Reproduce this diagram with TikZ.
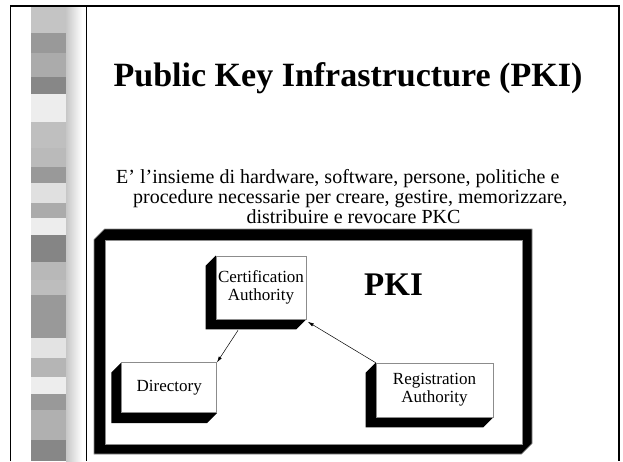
\documentclass[tikz,border=0pt]{standalone}
\usepackage{fontspec}
\setmainfont{Liberation Serif}
\usetikzlibrary{arrows.meta}
\usetikzlibrary{backgrounds}

\begin{document}
\begin{tikzpicture}[x=1pt,y=-1pt,
    heading/.style={inner sep=0pt,font=\fontsize{34}{36}\selectfont\bfseries},
    body/.style={inner sep=0pt,font=\fontsize{20}{22}\selectfont},
    slab/.style={draw=black!45,line width=0.6pt,fill=white,inner sep=0pt,
                 align=center,font=\fontsize{17}{18}\selectfont},
    link/.style={-{Latex[length=6pt,width=3.5pt]},line width=0.5pt}]
  \useasboundingbox (0,0) rectangle (623,461);

  % grey strip on the left
  \foreach \top/\bot/\shade in {6/33/23, 33/53/40, 53/77/33, 77/94/47, 94/122/7,
      122/148/25, 148/167/27, 167/183/40, 183/203/12, 203/218/33, 218/235/7,
      235/262/48, 262/280/28, 280/295/26, 295/338/40, 338/358/11, 358/377/29,
      377/394/7, 394/410/40, 410/440/31, 440/461/47}
    \fill[black!\shade] (31,\top) rectangle (66,\bot);
  \shade[left color=black!22,right color=white] (66,6) rectangle (82,461);

  % page rule
  \draw[line width=1.4pt] (10.5,461) |- (619,6) -- (619,461);
  \draw[line width=0.8pt] (86,6) -- (86,461);

  % heading and definition
  \node[heading,anchor=base] (title) at (348,86) {Public Key Infrastructure (PKI)};
  \node[body,anchor=base west] (line1) at (116,183)
    {E’ l’insieme di hardware, software, persone, politiche e};
  \node[body,anchor=base west] (line2) at (133,203.5)
    {procedure necessarie per creare, gestire, memorizzare,};
  \node[body,anchor=base] (line3) at (353.5,223.5) {distribuire e revocare PKC};

  % the three parts
  \node[slab,minimum width=90pt,minimum height=63pt] (ca) at (261,287.5)
    {Certification\\Authority};
  \node[slab,minimum width=95pt,minimum height=50pt] (dir) at (169.2,387.7)
    {Directory};
  \node[slab,minimum width=117pt,minimum height=54pt] (ra) at (434.5,390)
    {Registration\\Authority};
  \node[heading,font=\fontsize{33}{36}\selectfont\bfseries,anchor=base] (pki)
    at (393.5,295) {PKI};

  \begin{scope}[on background layer]
    % thick frame round the parts
    \filldraw[fill=black,draw=black!45,line width=0.6pt]
      (94,239.5) -- (104.5,229) -- (532,229) -- (532,443.5) -- (521.5,454)
      -- (94,454) -- cycle;
    \node[draw=black!45,line width=0.6pt,fill=white,inner sep=0pt,
          minimum width=417pt,minimum height=204pt] (pkiframe) at (313.5,342) {};
    % depth of each box
    \foreach \n in {ca,dir,ra}
      \fill (\n.north west) -- ++(-10,10) -- ([shift={(-10,10)}]\n.south west)
        -- ([shift={(-10,10)}]\n.south east) -- (\n.south east) -- cycle;
  \end{scope}

  \draw[link] ([shift={(-23,11)}]ca.south) -- (dir.north east);
  \draw[link] (ra.north west) -- ([shift={(1.5,2.5)}]ca.south east);
\end{tikzpicture}
\end{document}
